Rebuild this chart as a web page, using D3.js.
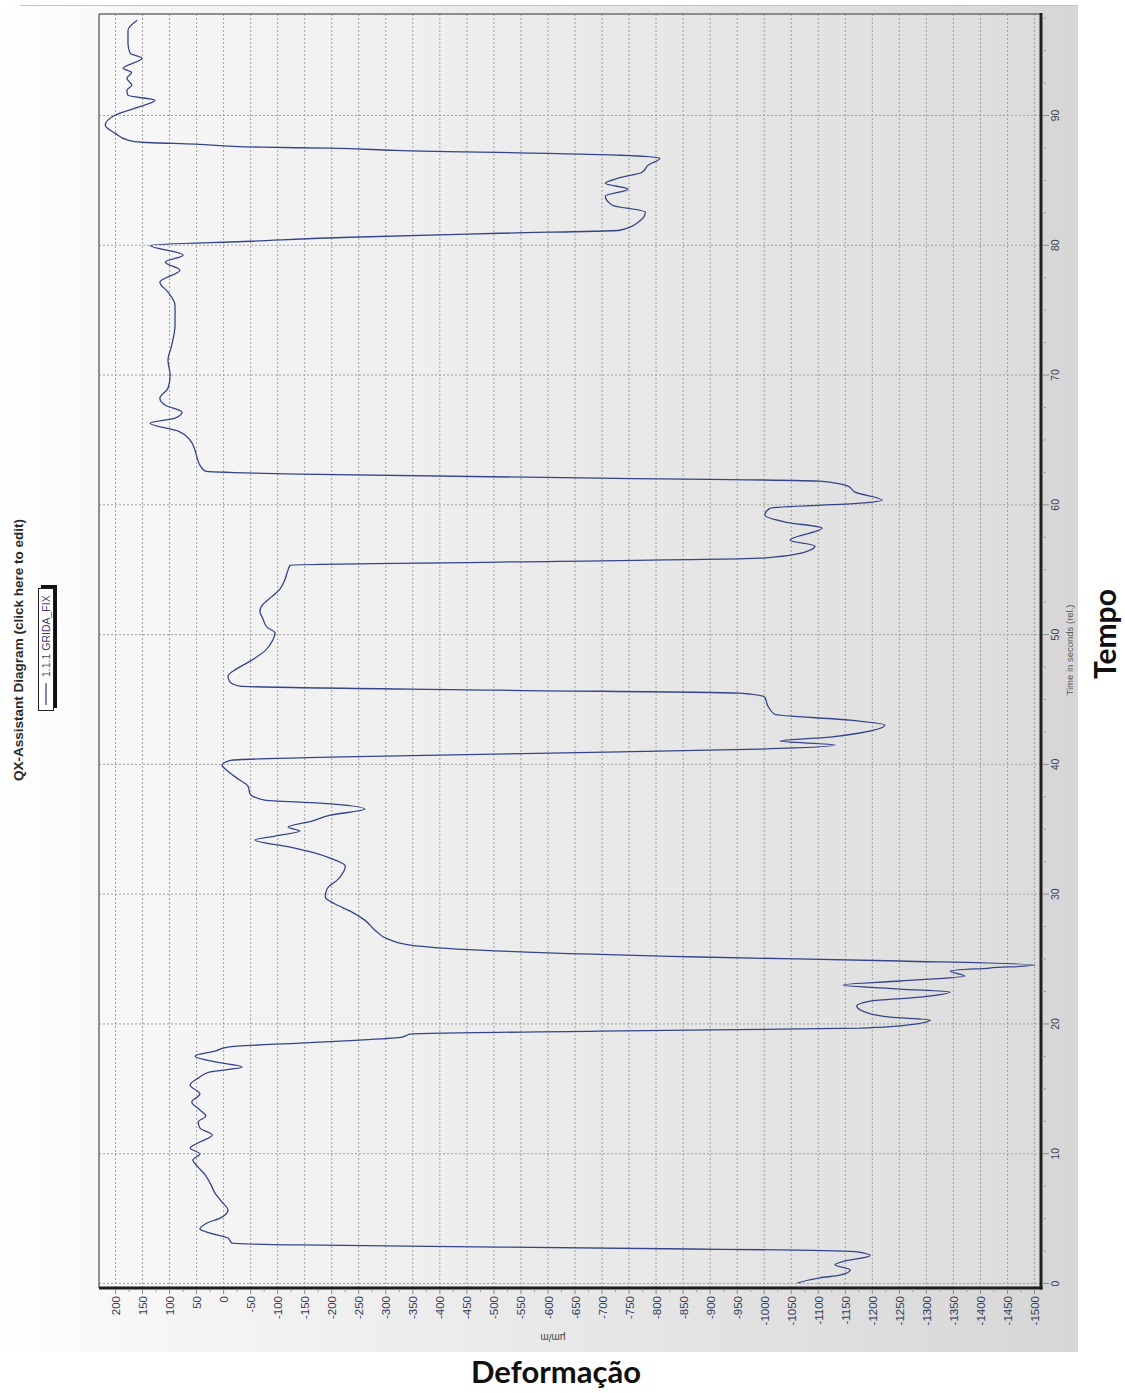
<!DOCTYPE html>
<html>
<head>
<meta charset="utf-8">
<script src="https://cdn.jsdelivr.net/npm/d3@7"></script>
<style>
  html, body { margin: 0; padding: 0; background: #ffffff; }
  svg { display: block; }
</style>
</head>
<body>
<svg id="chart" width="1125" height="1393"></svg>
<script>
// Strain gauge record 1.1.1 GRIDA_FIX: time (s, relative) and strain (µm/m)
const timeSec = [
  0, 0.4, 0.6, 1.0, 1.4, 1.7, 2.1, 2.4, 2.55, 2.62,
  2.77, 2.93, 3.08, 3.47, 3.85, 4.16, 4.55, 5.08, 5.62, 6.24,
  6.93, 7.7, 8.32, 9.01, 9.48, 9.94, 10.4, 10.86, 11.4, 11.94,
  12.4, 12.87, 13.33, 13.94, 14.56, 15.25, 15.79, 16.26, 16.64, 17.03,
  17.49, 17.87, 18.18, 18.49, 18.72, 18.95, 19.18, 19.41, 19.64, 19.95,
  20.26, 20.49, 20.8, 21.34, 21.72, 22.03, 22.42, 22.65, 22.96, 23.27,
  23.65, 24.04, 24.27, 24.5, 24.81, 25.12, 25.65, 26.04, 26.5, 27.19,
  27.96, 28.66, 29.2, 29.74, 30.35, 31.12, 32.13, 32.74, 33.2, 33.59,
  34.13, 34.44, 34.82, 35.13, 35.59, 36.05, 36.52, 36.98, 37.21, 37.68,
  38.29, 38.83, 39.44, 39.91, 40.29, 40.52, 40.83, 41.14, 41.45, 41.76,
  42.07, 42.38, 42.99, 43.37, 43.83, 44.53, 45.14, 45.45, 45.68, 45.99,
  46.3, 46.76, 47.3, 47.92, 48.69, 49.54, 50.08, 50.54, 51.15, 51.77,
  52.31, 52.85, 53.47, 54.16, 54.93, 55.31, 55.55, 55.85, 56.32, 56.78,
  57.24, 58.17, 58.63, 59.17, 59.71, 60.09, 60.32, 60.94, 61.4, 61.79,
  62.02, 62.33, 62.56, 63.02, 63.56, 64.17, 64.94, 65.64, 66.25, 66.64,
  67.1, 67.64, 68.18, 68.95, 69.95, 71.11, 72.26, 73.8, 75.34, 76.35,
  77.12, 78.04, 78.66, 79.2, 79.96, 80.27, 80.58, 80.89, 81.12, 81.74,
  82.51, 83.05, 83.74, 84.28, 84.74, 85.13, 85.59, 86.13, 86.67, 86.9,
  87.28, 87.44, 87.52, 87.75, 87.9, 88.06, 88.6, 89.21, 89.98, 90.6,
  91.13, 91.52, 91.9, 92.29, 92.83, 93.29, 93.6, 94.37, 94.75, 95.52,
  96.52, 97.3
];
const strainUm = [
  -1062, -1104, -1141, -1160, -1132, -1150, -1197, -1174, -1030, -864,
  -512, -142, -16, -9, 24, 43, 33, 2, -9, 2,
  15, 24, 33, 48, 56, 43, 61, 43, 20, 43,
  46, 32, 43, 58, 43, 61, 46, 24, -35, 15,
  52, 15, -9, -142, -253, -331, -346, -697, -1178, -1280,
  -1308, -1234, -1193, -1172, -1197, -1289, -1345, -1252, -1147, -1252,
  -1372, -1345, -1418, -1502, -1252, -882, -475, -346, -305, -281,
  -262, -235, -207, -189, -192, -213, -226, -198, -164, -124,
  -59, -96, -142, -120, -164, -198, -262, -179, -77, -50,
  -46, -28, -9, 2, -16, -198, -605, -993, -1132, -1030,
  -1123, -1178, -1224, -1160, -1020, -1007, -1002, -956, -512, -31,
  -13, -9, -24, -50, -77, -92, -96, -81, -74, -68,
  -74, -89, -105, -114, -120, -124, -512, -993, -1076, -1095,
  -1049, -1108, -1040, -1002, -1012, -1178, -1219, -1169, -1156, -1104,
  -697, -142, 33, 43, 48, 52, 61, 83, 135, 89,
  76, 107, 117, 102, 98, 102, 95, 89, 89, 102,
  117, 80, 107, 74, 135, -50, -235, -512, -734, -768,
  -781, -720, -707, -749, -707, -731, -775, -786, -808, -734,
  -318, -194, -72, 52, 150, 176, 200, 218, 200, 157,
  126, 176, 178, 169, 178, 169, 185, 150, 172, 176,
  176, 159
];

const strainTicks = [200, 150, 100, 50, 0, -50, -100, -150, -200, -250, -300, -350,
  -400, -450, -500, -550, -600, -650, -700, -750, -800, -850, -900, -950, -1000,
  -1050, -1100, -1150, -1200, -1250, -1300, -1350, -1400, -1450, -1500];
const timeTicks = [0, 10, 20, 30, 40, 50, 60, 70, 80, 90];

const chartTitle = "QX-Assistant Diagram (click here to edit)";
const seriesName = "1.1.1 GRIDA_FIX";

const svg = d3.select("#chart");

// Plot frame (the diagram is laid out sideways: time runs upward, strain runs left→right)
const frame = { left: 99, top: 14, right: 1041, bottom: 1288 };

// Strain → horizontal, time → vertical
const x = d3.scaleLinear().domain([200, -1500]).range([115, 1034]);
const y = d3.scaleLinear().domain([0, 90]).range([1283, 115]);

// plain ASCII hyphen-minus, no thousands separator
const plainNum = d => String(d);

const defs = svg.append("defs");
const panelGrad = defs.append("linearGradient").attr("id", "panelGrad")
  .attr("x1", "0%").attr("x2", "100%").attr("y1", "0%").attr("y2", "0%");
panelGrad.append("stop").attr("offset", "0%").attr("stop-color", "#ffffff");
panelGrad.append("stop").attr("offset", "12%").attr("stop-color", "#f7f7f7");
panelGrad.append("stop").attr("offset", "100%").attr("stop-color", "#d6d6d6");

const plotGrad = defs.append("linearGradient").attr("id", "plotGrad")
  .attr("x1", "0%").attr("x2", "100%").attr("y1", "0%").attr("y2", "0%");
plotGrad.append("stop").attr("offset", "0%").attr("stop-color", "#f8f8f8");
plotGrad.append("stop").attr("offset", "100%").attr("stop-color", "#dcdcdc");

// Outer panel
svg.append("rect").attr("x", 0).attr("y", 5).attr("width", 1078).attr("height", 1347)
  .attr("fill", "url(#panelGrad)");
svg.append("line").attr("x1", 20).attr("x2", 1078).attr("y1", 5.5).attr("y2", 5.5)
  .attr("stroke", "#c4c4c4").attr("stroke-width", 1);

// Plot background
svg.append("rect").attr("x", frame.left).attr("y", frame.top)
  .attr("width", frame.right - frame.left).attr("height", frame.bottom - frame.top)
  .attr("fill", "url(#plotGrad)");

// Grid
const grid = svg.append("g").attr("class", "grid");
grid.selectAll("line.gx").data(strainTicks).join("line").attr("class", "gx")
  .attr("x1", d => x(d) + 0.5).attr("x2", d => x(d) + 0.5)
  .attr("y1", frame.top).attr("y2", frame.bottom)
  .attr("stroke", "#a0a0a0").attr("stroke-width", 1).attr("stroke-dasharray", "2,2");
grid.selectAll("line.gy").data(timeTicks).join("line").attr("class", "gy")
  .attr("x1", frame.left).attr("x2", frame.right)
  .attr("y1", d => y(d) + 0.5).attr("y2", d => y(d) + 0.5)
  .attr("stroke", "#a0a0a0").attr("stroke-width", 1).attr("stroke-dasharray", "2,2");

// Strain trace
const pts = timeSec.map((t, i) => ({ t, v: strainUm[i] }));
const line = d3.line().x(d => x(d.v)).y(d => y(d.t)).curve(d3.curveMonotoneY);
svg.append("path").datum(pts).attr("d", line)
  .attr("fill", "none").attr("stroke", "#34448a").attr("stroke-width", 1.3)
  .attr("stroke-linejoin", "round");

// Frame: thin top/left, heavy right/bottom
svg.append("line").attr("x1", frame.left).attr("x2", frame.right).attr("y1", frame.top).attr("y2", frame.top)
  .attr("stroke", "#6e6e6e").attr("stroke-width", 1.5);
svg.append("line").attr("x1", frame.left).attr("x2", frame.left).attr("y1", frame.top).attr("y2", frame.bottom)
  .attr("stroke", "#6e6e6e").attr("stroke-width", 1.5);
svg.append("line").attr("x1", frame.right).attr("x2", frame.right).attr("y1", frame.top - 1).attr("y2", frame.bottom + 1.5)
  .attr("stroke", "#1e1e1e").attr("stroke-width", 3);
svg.append("line").attr("x1", frame.left).attr("x2", frame.right + 1.5).attr("y1", frame.bottom).attr("y2", frame.bottom)
  .attr("stroke", "#1e1e1e").attr("stroke-width", 3);

// Strain axis (below the frame), labels rotated
const xAxis = d3.axisBottom(x).tickValues(strainTicks).tickFormat(plainNum).tickSize(5).tickSizeOuter(0);
const gx = svg.append("g").attr("transform", `translate(0,${frame.bottom + 1})`).call(xAxis);
gx.select(".domain").remove();
gx.selectAll(".tick line").attr("stroke", "#8a8a8a");
gx.selectAll(".tick text")
  .attr("transform", "rotate(-90)")
  .attr("text-anchor", "end")
  .attr("x", -7).attr("y", 0.5).attr("dy", "0.35em")
  .attr("fill", "#33395a")
  .style("font-family", "'Liberation Sans', Arial, sans-serif")
  .style("font-size", "11.5px");

// minor strain ticks
const minorStrain = d3.range(175, -1500, -50);
svg.append("g").selectAll("line").data(minorStrain).join("line")
  .attr("x1", d => x(d) + 0.5).attr("x2", d => x(d) + 0.5)
  .attr("y1", frame.bottom + 1).attr("y2", frame.bottom + 4)
  .attr("stroke", "#9a9a9a");

// Time axis (right of the frame)
const yAxis = d3.axisRight(y).tickValues(timeTicks).tickFormat(plainNum).tickSize(7).tickSizeOuter(0);
const gy = svg.append("g").attr("transform", `translate(${frame.right + 1},0)`).call(yAxis);
gy.select(".domain").remove();
gy.selectAll(".tick line").attr("stroke", "#8a8a8a");
gy.selectAll(".tick text")
  .attr("transform", "rotate(-90)")
  .attr("text-anchor", "middle")
  .attr("x", 0).attr("y", 13).attr("dy", "0.35em")
  .attr("fill", "#3a3f5a")
  .style("font-family", "'Liberation Sans', Arial, sans-serif")
  .style("font-size", "10.5px");

const minorTime = d3.range(2.5, 97.6, 2.5).filter(t => t % 10 !== 0);
svg.append("g").selectAll("line").data(minorTime).join("line")
  .attr("x1", frame.right + 1).attr("x2", frame.right + 5)
  .attr("y1", d => y(d) + 0.5).attr("y2", d => y(d) + 0.5)
  .attr("stroke", "#a0a0a0");

// Axis captions
svg.append("text")
  .attr("transform", `translate(${frame.right + 29},650) rotate(-90)`)
  .attr("text-anchor", "middle").attr("dy", "0.35em")
  .attr("fill", "#5a5a5a")
  .style("font-family", "'Liberation Sans', Arial, sans-serif")
  .style("font-size", "9.5px")
  .text("Time in seconds (rel.)");

svg.append("text")
  .attr("transform", `translate(553,1337) rotate(180)`)
  .attr("text-anchor", "middle").attr("dy", "0.35em")
  .attr("fill", "#444")
  .style("font-family", "'Liberation Sans', Arial, sans-serif")
  .style("font-size", "10px")
  .text("µm/m");

// Diagram title and legend along the left edge
svg.append("text")
  .attr("transform", `translate(18,650) rotate(-90)`)
  .attr("text-anchor", "middle").attr("dy", "0.35em")
  .attr("fill", "#2a2a2a")
  .style("font-family", "'Liberation Sans', Arial, sans-serif")
  .style("font-size", "13.5px").style("font-weight", "bold")
  .text(chartTitle);

const legend = svg.append("g");
legend.append("rect").attr("x", 41).attr("y", 585).attr("width", 16).attr("height", 123).attr("fill", "#111");
legend.append("rect").attr("x", 38.5).attr("y", 588.5).attr("width", 15).attr("height", 122)
  .attr("fill", "#ffffff").attr("stroke", "#222").attr("stroke-width", 1);
legend.append("line").attr("x1", 46).attr("x2", 46).attr("y1", 705).attr("y2", 683)
  .attr("stroke", "#2d3c84").attr("stroke-width", 1.2);
legend.append("text")
  .attr("transform", `translate(46,677) rotate(-90)`)
  .attr("text-anchor", "start").attr("dy", "0.35em")
  .attr("fill", "#4a3b6e")
  .style("font-family", "'Liberation Sans', Arial, sans-serif")
  .style("font-size", "10.5px")
  .text(seriesName);

// Annotation labels
svg.append("text")
  .attr("x", 556).attr("y", 1383)
  .attr("text-anchor", "middle")
  .attr("fill", "#111")
  .style("font-family", "Lato, 'Open Sans', sans-serif")
  .style("font-size", "31px").style("font-weight", "bold")
  .text("Deformação");

svg.append("text")
  .attr("transform", `translate(1116,634) rotate(-90)`)
  .attr("text-anchor", "middle")
  .attr("fill", "#111")
  .style("font-family", "Lato, 'Open Sans', sans-serif")
  .style("font-size", "30px").style("font-weight", "bold")
  .text("Tempo");
</script>
</body>
</html>
